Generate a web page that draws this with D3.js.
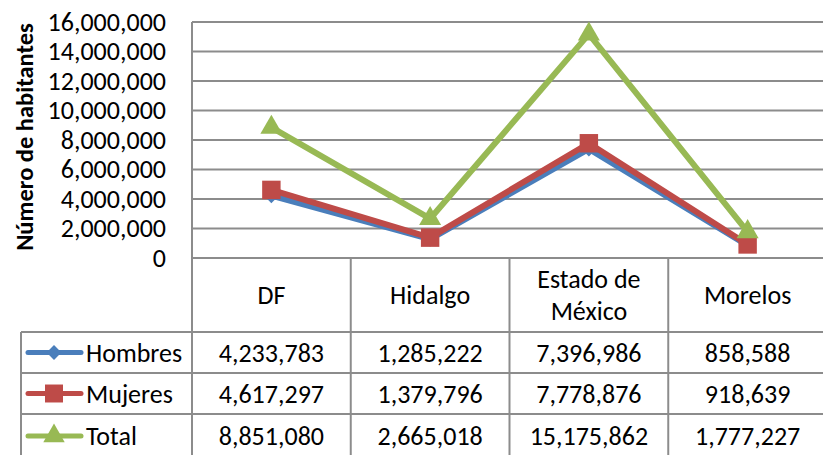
<!DOCTYPE html>
<html>
<head>
<meta charset="utf-8">
<script src="https://cdn.jsdelivr.net/npm/d3@7"></script>
<style>
  body { margin: 0; background: #fff; }
  svg { display: block; font-family: Carlito, Lato, sans-serif; }
</style>
</head>
<body>
<div id="chart"></div>
<script>
// data
const categories = ["DF", "Hidalgo", "Estado de México", "Morelos"];
const headerLines = [["DF"], ["Hidalgo"], ["Estado de", "México"], ["Morelos"]];
const hombres = [4233783, 1285222, 7396986, 858588];
const mujeres = [4617297, 1379796, 7778876, 918639];
const total = [8851080, 2665018, 15175862, 1777227];
const seriesNames = ["Hombres", "Mujeres", "Total"];
const yTicks = [0, 2000000, 4000000, 6000000, 8000000, 10000000, 12000000, 14000000, 16000000];

// diamond = square turned 45deg
const series = [
  { name: seriesNames[0], values: hombres, color: "#4A7EBB", marker: d3.symbolSquare, rot: 45, size: 115 },
  { name: seriesNames[1], values: mujeres, color: "#BE4B48", marker: d3.symbolSquare, rot: 0, size: 340 },
  { name: seriesNames[2], values: total, color: "#98B954", marker: d3.symbolTriangle, rot: 0, size: 210 }
];

const W = 823, H = 455;
const plot = { left: 192, right: 827, top: 22, bottom: 258 };
const rows = [258, 332, 373, 414, 458];
const gridColor = "#8C8C8C";
const fontSize = "26px";

const svg = d3.select("#chart").append("svg")
  .attr("width", W).attr("height", H);

const x = d3.scaleBand().domain(categories).range([plot.left, plot.right]);
const y = d3.scaleLinear().domain([0, 16000000]).range([plot.bottom, plot.top]);
const fmt = d3.format(",");

// gridlines
svg.append("g").selectAll("line")
  .data(yTicks)
  .join("line")
  .attr("x1", plot.left).attr("x2", W)
  .attr("y1", d => y(d)).attr("y2", d => y(d))
  .attr("stroke", gridColor).attr("stroke-width", 2);

// y axis
const yAxis = svg.append("g")
  .attr("transform", `translate(${plot.left},0)`)
  .call(d3.axisLeft(y).tickValues(yTicks).tickFormat(d => d === 0 ? "0" : fmt(d)).tickSize(0).tickPadding(26));
yAxis.select(".domain").remove();
yAxis.selectAll("text")
  .style("font-family", "Carlito, Lato, sans-serif")
  .style("font-size", fontSize)
  .attr("fill", "#000");

svg.append("line")
  .attr("x1", plot.left).attr("x2", plot.left)
  .attr("y1", plot.top).attr("y2", H)
  .attr("stroke", gridColor).attr("stroke-width", 2);

svg.append("text")
  .attr("transform", `translate(33,${(plot.top + plot.bottom) / 2 - 3}) rotate(-90)`)
  .attr("text-anchor", "middle")
  .style("font-size", "24.5px")
  .style("font-weight", "bold")
  .text("Número de habitantes");

// data table
const table = svg.append("g");
table.selectAll("line.col")
  .data(categories.slice(1))
  .join("line")
  .attr("x1", d => x(d)).attr("x2", d => x(d))
  .attr("y1", rows[0]).attr("y2", H)
  .attr("stroke", gridColor).attr("stroke-width", 2);

table.selectAll("line.row")
  .data(rows.slice(1, 4))
  .join("line")
  .attr("x1", 21).attr("x2", W)
  .attr("y1", d => d).attr("y2", d => d)
  .attr("stroke", gridColor).attr("stroke-width", 2);

table.append("line")
  .attr("x1", 21).attr("x2", 21)
  .attr("y1", rows[1]).attr("y2", H)
  .attr("stroke", gridColor).attr("stroke-width", 2);

// header
headerLines.forEach((lines, i) => {
  const cx = x(categories[i]) + x.bandwidth() / 2;
  const cy = (rows[0] + rows[1]) / 2;
  const t = table.append("text")
    .attr("text-anchor", "middle")
    .style("font-size", fontSize);
  lines.forEach((l, j) => {
    t.append("tspan")
      .attr("x", cx)
      .attr("y", cy + (j - (lines.length - 1) / 2) * 32)
      .attr("dy", "0.35em")
      .text(l);
  });
});

// values + legend keys
series.forEach((s, r) => {
  const cy = (rows[r + 1] + rows[r + 2]) / 2;
  s.values.forEach((v, i) => {
    table.append("text")
      .attr("x", x(categories[i]) + x.bandwidth() / 2)
      .attr("y", cy)
      .attr("dy", "0.35em")
      .attr("text-anchor", "middle")
      .style("font-size", fontSize)
      .text(fmt(v));
  });
  table.append("line")
    .attr("x1", 28).attr("x2", 81)
    .attr("y1", cy).attr("y2", cy)
    .attr("stroke", s.color).attr("stroke-width", 5)
    .attr("stroke-linecap", "round");
  table.append("path")
    .attr("transform", `translate(54,${cy}) rotate(${s.rot})`)
    .attr("d", d3.symbol().type(s.marker).size(s.size * 0.95)())
    .attr("fill", s.color);
  table.append("text")
    .attr("x", 86).attr("y", cy)
    .attr("dy", "0.35em")
    .style("font-size", fontSize)
    .text(s.name);
});

// lines
const line = d3.line()
  .x((d, i) => x(categories[i]) + x.bandwidth() / 2)
  .y(d => y(d));

series.forEach(s => {
  svg.append("path")
    .datum(s.values)
    .attr("fill", "none")
    .attr("stroke", s.color)
    .attr("stroke-width", 6)
    .attr("stroke-linejoin", "round")
    .attr("d", line);
  svg.selectAll(null)
    .data(s.values)
    .join("path")
    .attr("transform", (d, i) => `translate(${x(categories[i]) + x.bandwidth() / 2},${y(d)}) rotate(${s.rot})`)
    .attr("d", d3.symbol().type(s.marker).size(s.size)())
    .attr("fill", s.color);
});
</script>
</body>
</html>
